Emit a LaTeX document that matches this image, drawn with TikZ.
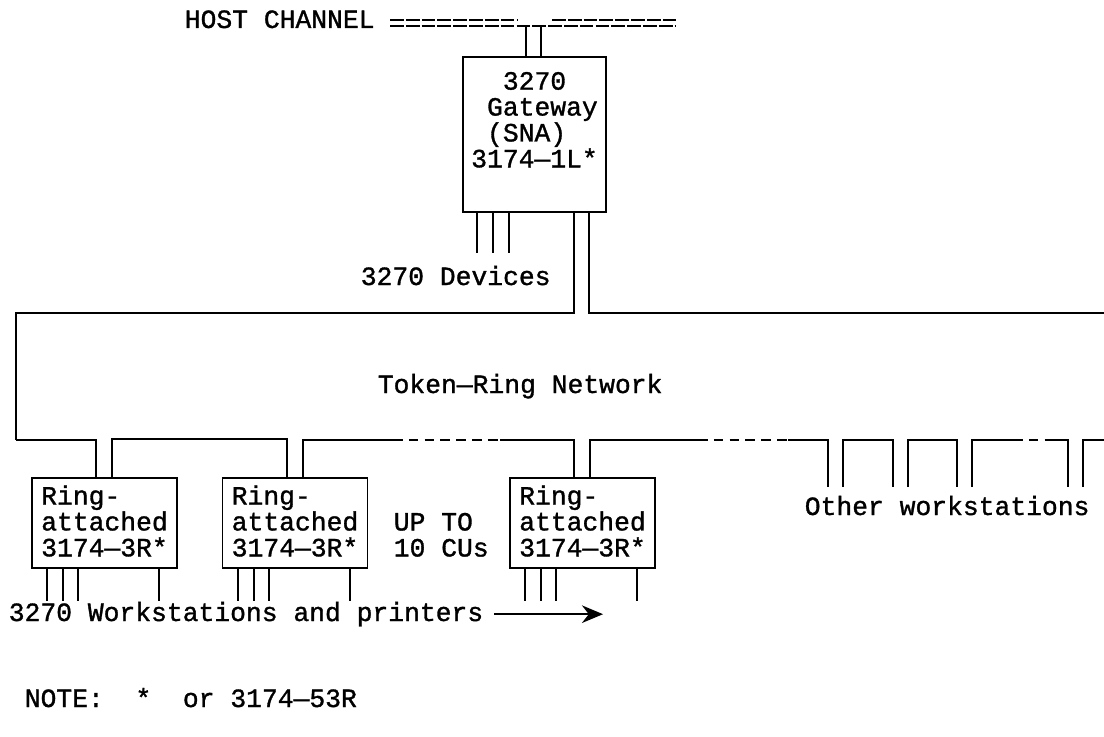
\documentclass[tikz,border=0pt]{standalone}
\usepackage{fontspec}
\setmonofont{Liberation Mono}[FakeBold=1.2]
\usepackage{tikz}
\usetikzlibrary{arrows.meta,calc,positioning}

\tikzset{
  tw/.style={font=\fontsize{15}{14.74}\selectfont\ttfamily, inner sep=0pt},
  cubox/.style={draw, tw, align=left, minimum width=2.9cm, minimum height=1.8cm,
    text height=40.25pt, text depth=2.3pt},
  gap/.style={dash pattern=on 5.5pt off 3.5pt},
  chan/.style={dash pattern=on 7.8pt off 1.2pt},
}

\begin{document}
\begin{tikzpicture}[x=0.02cm, y=-0.02cm, line width=0.9pt]
  \useasboundingbox (0,0) rectangle (1104,736);

  % host channel
  \node[tw, anchor=base west] (host) at (184,28) {HOST CHANNEL};
  \coordinate (chl) at (390,20);
  \coordinate (chr) at (676,20);
  \draw[chan] (chl) -- (518,20) (552,20) -- (chr);
  \draw[chan] ($(chl)+(0,6)$) -- ($(chr)+(0,6)$);

  % gateway
  \node[cubox, minimum width=2.86cm, minimum height=3.1cm, text height=39.7pt] (gw) at (534.5,134.5)
    {\phantom{00}3270\\\phantom{0}Gateway\\\phantom{0}(SNA)\\3174—1L*};
  \draw (gw.north west) ++(64,0) -- ++(0,-31);
  \draw (gw.north west) ++(79,0) -- ++(0,-31);
  \foreach \dx in {15,31,47}
    \draw (gw.south west) ++(\dx,0) -- ++(0,40);
  \node[tw, anchor=base west] (dev) at (360,285) {3270 Devices};

  % token ring
  \coordinate (rtl) at (16,313);
  \coordinate (rbl) at (16,440);
  \coordinate (rtr) at (1104,313);
  \draw (gw.south west) ++(112,0) |- (rtl) -- (rbl);
  \draw (gw.south west) ++(127,0) |- (rtr);
  \node[tw, anchor=base west] (trn) at (377,393) {Token—Ring Network};

  % control units
  \node[cubox] (cu1) at (104.5,523) {Ring-\\attached\\3174—3R*};
  \node[cubox] (cu2) at (295,523) {Ring-\\attached\\3174—3R*};
  \node[cubox] (cu3) at (582.5,523) {Ring-\\attached\\3174—3R*};
  \node[tw, anchor=base west] (upto) at (393,530.5) {UP TO};
  \node[tw, anchor=base west] (cus) at (393,556.5) {10 CUs};

  \draw (rbl) -| ($(cu1.north west)+(65,0)$);
  \draw ($(cu1.north west)+(81,0)$) |- ($(cu2.north west)+(65,-38)$) -- ++(0,38);
  \draw ($(cu2.north west)+(81,0)$) |- (393,440);
  \draw[gap] (393,440) -- (500,440);
  \draw (500,440) -| ($(cu3.north west)+(65,0)$);
  \draw ($(cu3.north west)+(81,0)$) |- (698,440);
  \draw[gap] (698,440) -- (788,440);

  % other workstations
  \draw (788,440) -| (828,487);
  \draw (843,487) |- (893,440) -- (893,487);
  \draw (908,487) |- (957,440) -- (957,487);
  \draw (972,487) |- (1013,440);
  \draw[gap] (1013,440) -- (1050,440);
  \draw (1050,440) -| (1068,487);
  \draw (1083,487) |- (1104,440);
  \node[tw, anchor=base west] (ows) at (804,515) {Other workstations};

  \foreach \b in {cu1,cu2,cu3}
    \foreach \dx in {16,32,47,128}
      \draw (\b.south west) ++(\dx,0) -- ++(0,32);

  \node[tw, anchor=base west] (wsp) at (8,621) {3270 Workstations and printers};
  \draw[-{Stealth[length=12pt,width=10pt]}, line width=1.1pt] ($(wsp.east)+(10,0)$) -- ++(109,0);

  \node[tw, anchor=base west] (note) at (24,707) {NOTE:\ \ *\ \ or 3174—53R};
\end{tikzpicture}
\end{document}
